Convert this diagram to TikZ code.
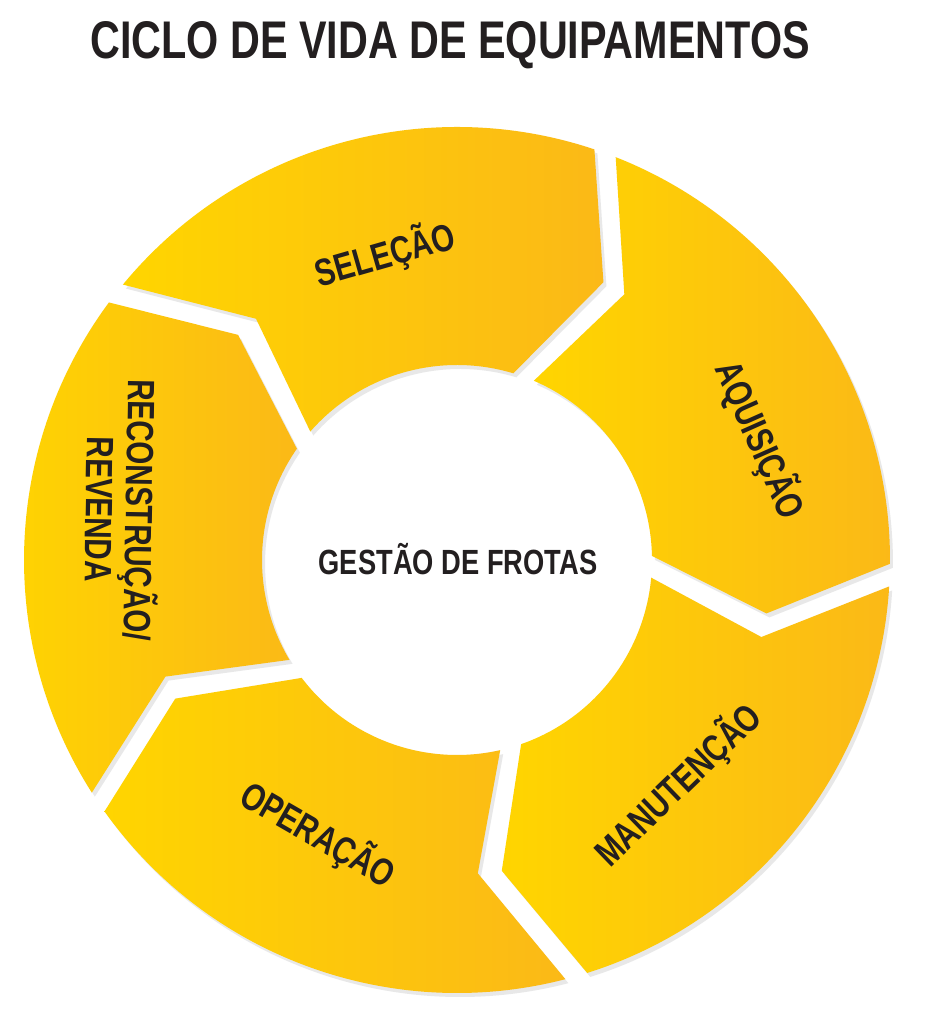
\documentclass[tikz,border=0pt]{standalone}
\usepackage{fontspec}
\newfontfamily\cond[FakeStretch=0.78]{Liberation Sans}
\definecolor{ylA}{HTML}{FFD500}
\definecolor{ylB}{HTML}{FBB917}
\definecolor{txt}{HTML}{231F20}
\newcommand{\segpath}[2]{%
 ([shift={(457,472)}]#1-1.5:433) arc[start angle=#1-1.5, end angle=#2+1.5, radius=433]
 -- ([shift={(457,472)}]#2+2.2-10:314)
 -- ([shift={(457,472)}]#2+3.2:195) arc[start angle=#2+3.2, end angle=#1-3.2, radius=195]
 -- ([shift={(457,472)}]#1-2.2-10:314) -- cycle}
\tikzset{segm/.style={left color=ylA, right color=ylB, draw=none},
 shad/.style={fill=black!9, draw=none},
 lab/.style={font=\cond\bfseries\fontsize{38}{40}\selectfont, text=txt, inner sep=0pt, align=center}}
\begin{document}
\begin{tikzpicture}[x=1pt,y=1pt]
\useasboundingbox (0,0) rectangle (930,1032);
\fill[white] (0,0) rectangle (930,1032);
\node[lab, font=\cond\bfseries\fontsize{53}{55}\selectfont] (title) at (450,987) {CICLO DE VIDA DE EQUIPAMENTOS};
\foreach \a/\e in {142/70, 70/-2, -2/-74, -74/-146, -146/-218}{
 \fill[shad, shift={(3,-4)}] \segpath{\a}{\e};
}
\foreach \a/\e in {142/70, 70/-2, -2/-74, -74/-146, -146/-218}{
 \path[segm] \segpath{\a}{\e};
}
\node[lab] (sel) at (385,777) [rotate=16] {SELEÇÃO};
\node[lab] (aqu) at (760,592) [rotate=-66] {AQUISIÇÃO};
\node[lab] (man) at (678,247) [rotate=44] {MANUTENÇÃO};
\node[lab] (ope) at (318,197) [rotate=-30] {OPERAÇÃO};
\node[lab] (rec) at (123,522) [rotate=-91] {RECONSTRUÇÃO/\\REVENDA};
\node[lab, font=\cond\bfseries\fontsize{35}{37}\selectfont] (ges) at (458,473) {GESTÃO DE FROTAS};
\end{tikzpicture}
\end{document}
